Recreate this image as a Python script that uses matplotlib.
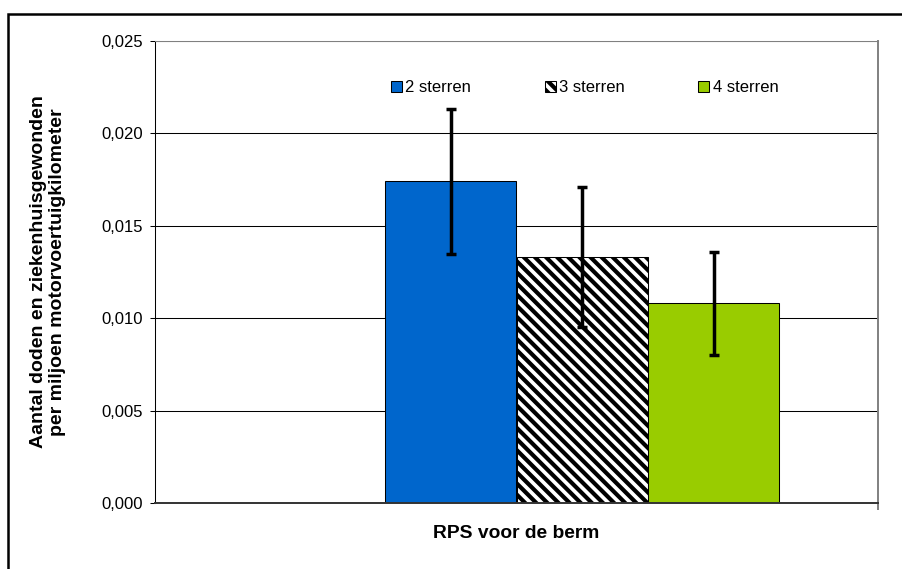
import matplotlib
matplotlib.use("Agg")
import matplotlib.pyplot as plt
from matplotlib.patches import Rectangle

# Data
series = ["2 sterren", "3 sterren", "4 sterren"]
values = [0.0174, 0.0133, 0.0108]
errors = [0.0039, 0.0038, 0.0028]
colors = ["#0066CC", "white", "#99CC00"]
hatches = [None, "\\\\\\", None]
slots = [1, 2, 3]          # slot 0 of the group stays empty
n_slots = 4
category = "RPS voor de berm"
ylabel = "Aantal doden en ziekenhuisgewonden\nper miljoen motorvoertuigkilometer"
yticks = [0.000, 0.005, 0.010, 0.015, 0.020, 0.025]
yticklabels = ["0,000", "0,005", "0,010", "0,015", "0,020", "0,025"]

plt.rcParams["font.family"] = ["Liberation Sans", "DejaVu Sans"]
plt.rcParams["hatch.linewidth"] = 3.0
plt.rcParams["hatch.color"] = "black"

W, H, DPI = 903, 569, 100
fig = plt.figure(figsize=(W / DPI, H / DPI), dpi=DPI)
fig.patch.set_facecolor("white")

# Plot area (pixel edges of the axes box)
left, right, top, bottom = 155, 878, 41, 503
ax = fig.add_axes([left / W, (H - bottom) / H, (right - left) / W, (bottom - top) / H])

gap = 1.5
w = 1.0 / (n_slots + gap)
centers = [gap / 2 * w + (s + 0.5) * w for s in slots]

ax.set_axisbelow(True)
ax.yaxis.grid(True, color="black", lw=0.75)
for x, v, e, c, h, lab in zip(centers, values, errors, colors, hatches, series):
    ax.bar(x, v, width=w, color=c, edgecolor="black", lw=0.75, hatch=h, label=lab, zorder=2)
    ax.errorbar(x, v, yerr=e, fmt="none", ecolor="black", elinewidth=2.5,
                capsize=3.6, capthick=2.5, zorder=3)

ax.set_xlim(0, 1)
ax.set_ylim(0, 0.025)
ax.set_yticks(yticks)
ax.set_yticklabels(yticklabels, fontsize=12)
ax.set_xticks([1.0])
ax.set_xticklabels([""])
ax.tick_params(axis="y", length=3.6, width=0.75, direction="out", pad=5, colors="black")
ax.tick_params(axis="x", length=5, width=1.4, direction="out", color="#808080")

ax.spines["top"].set_color("#808080")
ax.spines["top"].set_linewidth(0.75)
ax.spines["right"].set_color("#808080")
ax.spines["right"].set_linewidth(1.4)
ax.spines["left"].set_color("black")
ax.spines["left"].set_linewidth(0.75)
ax.spines["bottom"].set_color("#333333")
ax.spines["bottom"].set_linewidth(1.4)

ax.set_xlabel(category, fontsize=13.9, fontweight="bold", va="center")
ax.xaxis.set_label_coords(0.5, (bottom - 533) / (bottom - top))
ax.set_ylabel(ylabel, fontsize=14, fontweight="bold", linespacing=1.2, va="center")
ax.yaxis.set_label_coords((48 - left) / (right - left), 0.5)

leg = ax.legend(loc="center left",
                bbox_to_anchor=((390.7 - left) / (right - left), (bottom - 87.5) / (bottom - top)),
                ncol=3, frameon=False, fontsize=12, handlelength=0.66, handleheight=0.66,
                handletextpad=0.22, columnspacing=4.4, borderaxespad=0, borderpad=0)

# Outer chart frame
fig.add_artist(Rectangle((8 / W, -0.2), 1.2, (H - 14) / H + 0.2, transform=fig.transFigure,
                         fill=False, edgecolor="black", lw=1.8, clip_on=False))

fig.savefig("out.png", dpi=DPI)
